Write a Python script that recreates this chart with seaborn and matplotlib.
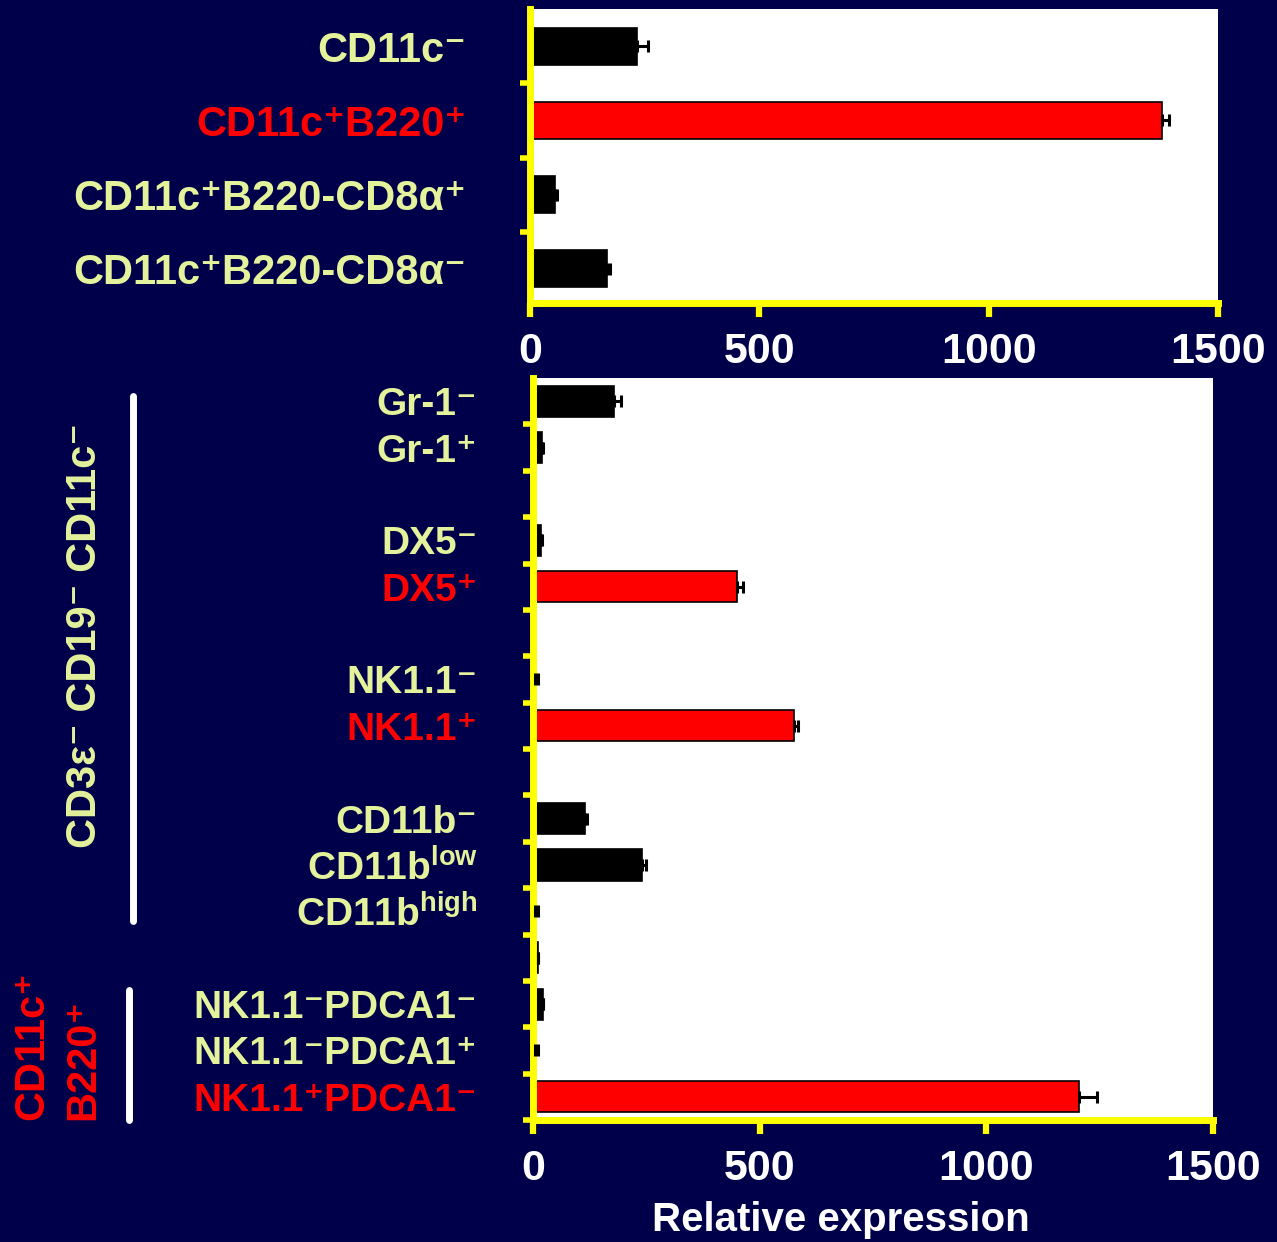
import numpy as np
import pandas as pd
import matplotlib
matplotlib.use('Agg')
import matplotlib.pyplot as plt
from matplotlib.lines import Line2D
import seaborn as sns

# colours
navy = '#00004a'
yellow = '#ffff00'
pale = '#e4f29b'
red = '#ff0000'

# top panel: dendritic cell subsets
top_cells = ['CD11c-', 'CD11c+B220+', 'CD11c+B220-CD8a+', 'CD11c+B220-CD8a-']
top_values = [234, 1378, 55, 168]
top_errors = [24, 15, 4, 7]
top_labels = ['CD11c⁻', 'CD11c⁺B220⁺', 'CD11c⁺B220-CD8α⁺', 'CD11c⁺B220-CD8α⁻']
top_red = [False, True, False, False]

# bottom panel: CD3e- CD19- CD11c- and CD11c+ B220+ subsets
bottom_cells = ['Gr-1-', 'Gr-1+', 'DX5-', 'DX5+', 'NK1.1-', 'NK1.1+',
                'CD11b-', 'CD11b low', 'CD11b high', 'unlabelled',
                'NK1.1-PDCA1-', 'NK1.1-PDCA1+', 'NK1.1+PDCA1-']
bottom_values = [179, 20, 17, 450, 4, 576, 115, 240, 4, 10, 21, 4, 1204]
bottom_errors = [14, 2, 2, 13, 7, 9, 3, 10, 7, 1, 2, 7, 40]
bottom_labels = ['Gr-1⁻', 'Gr-1⁺', 'DX5⁻', 'DX5⁺', 'NK1.1⁻', 'NK1.1⁺',
                 'CD11b⁻', 'CD11b$^{low}$', 'CD11b$^{high}$', '',
                 'NK1.1⁻PDCA1⁻', 'NK1.1⁻PDCA1⁺', 'NK1.1⁺PDCA1⁻']
bottom_red = [False, False, False, True, False, True, False, False, False,
              False, False, False, True]
# slot order with empty rows between groups
bottom_order = ['Gr-1-', 'Gr-1+', 'gap 1', 'DX5-', 'DX5+', 'gap 2',
                'NK1.1-', 'NK1.1+', 'gap 3', 'CD11b-', 'CD11b low',
                'CD11b high', 'unlabelled', 'NK1.1-PDCA1-', 'NK1.1-PDCA1+',
                'NK1.1+PDCA1-']

sns.set_style('white')
plt.rcParams['font.family'] = ['Liberation Sans', 'DejaVu Sans']
plt.rcParams['font.weight'] = 'bold'
plt.rcParams['mathtext.fontset'] = 'custom'
plt.rcParams['mathtext.rm'] = 'Liberation Sans:bold'
plt.rcParams['mathtext.bf'] = 'Liberation Sans:bold'
plt.rcParams['mathtext.it'] = 'Liberation Sans:bold'
plt.rcParams['mathtext.default'] = 'bf'


def draw_panel(ax, cells, values, errors, labels, reds, order, bar_w,
               label_size, label_pad):
    df = pd.DataFrame({'cell': cells, 'value': values, 'error': errors})
    pal = {c: (red if r else 'black') for c, r in zip(cells, reds)}
    sns.barplot(data=df, x='value', y='cell', hue='cell', order=order,
                palette=pal, saturation=1, orient='h', width=bar_w,
                edgecolor='black', linewidth=1.2, errorbar=None,
                legend=False, ax=ax)
    pos = [order.index(c) for c in cells]
    ax.errorbar(df['value'], pos, xerr=[np.zeros(len(df)), df['error']],
                fmt='none', ecolor='black', elinewidth=2.2, capsize=4.3,
                capthick=2.2, zorder=4)
    n = len(order)
    ax.set_yticks(pos, labels)
    for tl, r in zip(ax.get_yticklabels(), reds):
        tl.set_color(red if r else pale)
    ax.set_yticks(np.arange(0.5, n - 0.4, 1), minor=True)
    ax.tick_params(axis='y', which='major', left=True, length=0,
                   pad=label_pad, labelsize=label_size)
    ax.tick_params(axis='y', which='minor', left=True, length=7.5, width=4,
                   color=yellow, direction='out')
    ax.set_xlim(0, 1500)
    ax.set_xticks([0, 500, 1000, 1500])
    ax.tick_params(axis='x', bottom=True, direction='out', length=10,
                   width=4.5, color=yellow, labelcolor='white',
                   labelsize=31, pad=11)
    ax.set_xlabel('')
    ax.set_ylabel('')
    ax.set_facecolor('white')
    for s in ['top', 'right']:
        ax.spines[s].set_visible(False)
    for s in ['left', 'bottom']:
        ax.spines[s].set_color(yellow)
        ax.spines[s].set_linewidth(5)


fig = plt.figure(figsize=(12.77, 12.42), dpi=100, facecolor=navy)

ax_top = fig.add_axes([0.4150, 0.7560, 0.5388, 0.2367])
draw_panel(ax_top, top_cells, top_values, top_errors, top_labels, top_red,
           top_cells, 0.5, 30, 46)
ax_top.set_ylim(3.46, -0.5)
ax_top.set_yticks([0.5, 1.5, 2.5], minor=True)

ax_bot = fig.add_axes([0.4174, 0.0982, 0.5325, 0.5974])
draw_panel(ax_bot, bottom_cells, bottom_values, bottom_errors, bottom_labels,
           bottom_red, bottom_order, 0.67, 28, 40)
ax_bot.set_ylim(15.5, -0.5)

fig.text(841 / 1277, 1 - 1220 / 1242, 'Relative expression', color='white',
         fontsize=29, fontweight='bold', ha='center', va='center')

# group annotations on the left
fig.add_artist(Line2D([133 / 1277, 133 / 1277], [1 - 396 / 1242, 1 - 921 / 1242],
                      color='white', lw=5, transform=fig.transFigure))
fig.text(85 / 1277, 1 - 635 / 1242, 'CD3ε⁻ CD19⁻ CD11c⁻',
         color=pale, fontsize=30, fontweight='bold', rotation=90,
         ha='center', va='center')
fig.add_artist(Line2D([129 / 1277, 129 / 1277], [1 - 990 / 1242, 1 - 1120 / 1242],
                      color='white', lw=5, transform=fig.transFigure))
fig.text(32 / 1277, 1 - 1120 / 1242, 'CD11c⁺', color=red, fontsize=30,
         fontweight='bold', rotation=90, ha='center', va='bottom')
fig.text(83 / 1277, 1 - 1120 / 1242, 'B220⁺', color=red, fontsize=30,
         fontweight='bold', rotation=90, ha='center', va='bottom')

fig.savefig('out.png', dpi=100, facecolor=navy)
